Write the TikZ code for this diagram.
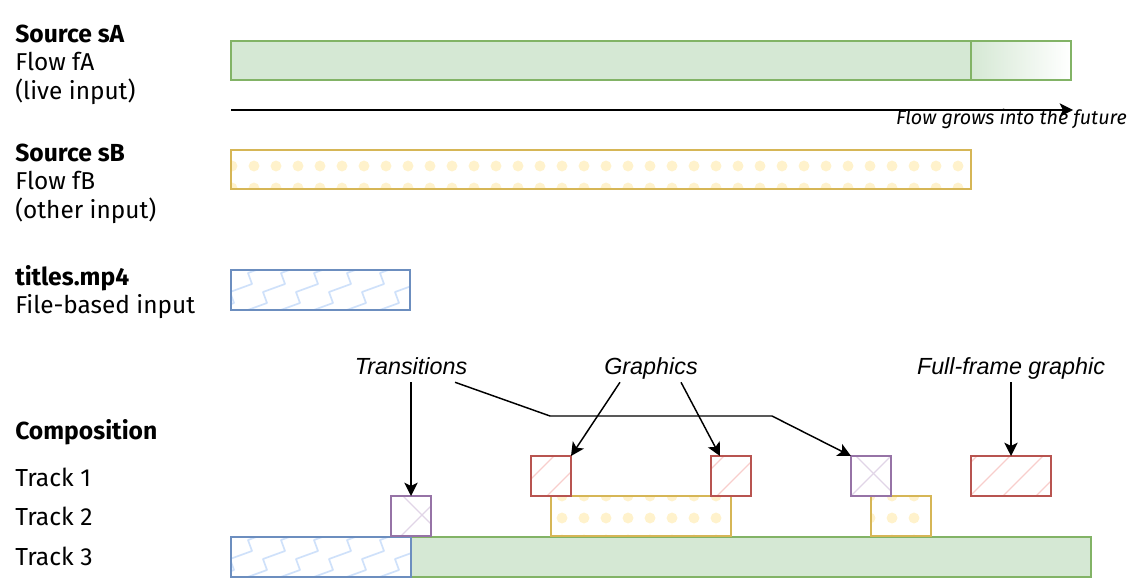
\documentclass[tikz,border=0pt]{standalone}
\usepackage{fontspec}
\setmainfont{Fira Sans}
\newfontfamily\arialfont{Liberation Sans}
\usetikzlibrary{arrows.meta,fit,calc}
\definecolor{gfill}{HTML}{D5E8D4}
\definecolor{gline}{HTML}{82B366}
\definecolor{yfill}{HTML}{FFF2CC}
\definecolor{yline}{HTML}{D6B656}
\definecolor{bfill}{HTML}{CFE1FA}
\definecolor{bline}{HTML}{6C8EBF}
\definecolor{rfill}{HTML}{F8CECC}
\definecolor{rline}{HTML}{B85450}
\definecolor{pfill}{HTML}{E1D5E7}
\definecolor{pline}{HTML}{9673A6}
\tikzset{
  box/.style={draw, line width=1.1pt, inner sep=0pt, outer sep=0pt},
  gbox/.style={box, draw=gline, fill=gfill},
  ybox/.style={box, draw=yline},
  bbox/.style={box, draw=bline},
  rbox/.style={box, draw=rline},
  pbox/.style={box, draw=pline},
  lab/.style={anchor=base west, inner sep=0pt, font=\fontsize{18.3}{21}\selectfont},
  labb/.style={anchor=base west, inner sep=0pt, font=\bfseries\fontsize{18.5}{21}\selectfont},
  tlab/.style={anchor=base west, inner sep=0pt, font=\fontsize{18.5}{22}\selectfont},
  tlabb/.style={anchor=base west, inner sep=0pt, font=\bfseries\fontsize{18.5}{22}\selectfont},
  note/.style={inner sep=0pt, text height=12.6pt, text depth=0pt, minimum height=24pt, font=\arialfont\itshape\fontsize{17.5}{20}\selectfont},
  arr/.style={line width=1.1pt, -{Stealth[length=10pt,width=10pt,inset=2.5pt]}},
  dotf/.style={fill=yfill},
  zz/.style={draw=bfill, line width=1.3pt, line join=bevel},
  hatch/.style={draw=rfill, line width=1pt},
  xhatch/.style={draw=pfill, line width=1pt}
}
\newcommand\myclip[1]{\clip ([xshift=0.6pt,yshift=0.6pt]#1.south west) rectangle ([xshift=-0.6pt,yshift=-0.6pt]#1.north east);}
\newcommand\mydots[2]{\begin{scope}\myclip{#1}
  \foreach \yy in {#2}{\foreach \xx in {232,254,...,980}{\fill[dotf] (\xx,\yy) circle[radius=4.1pt];}}\end{scope}}
\newcommand\myzig[2]{\begin{scope}\myclip{#1}
  \foreach \xx in {95,128,...,425}{\draw[zz] (\xx,#2) \foreach \k in {1,...,5}{ -- ++(22,-8) -- ++(-4,-11)};}\end{scope}}
\newcommand\myhatch[2]{\begin{scope}\myclip{#1}
  \foreach \cc in {#2}{\draw[hatch] (\cc,0) -- ++(-700,700);}\end{scope}}
\newcommand\mycross[3]{\begin{scope}\myclip{#1}
  \draw[xhatch] (#2,0) -- ++(700,700);
  \draw[xhatch] (#3,0) -- ++(-700,700);\end{scope}}
\begin{document}
\begin{tikzpicture}[x=0.75pt,y=-0.75pt]
\useasboundingbox (0,0) rectangle (1142,588);
% left labels
\node[labb] (sa1) at (15,42.5) {Source sA};
\node[lab]  (sa2) at (15,71) {Flow fA};
\node[lab]  (sa3) at (15,99.5) {(live input)};
\node[labb] (sb1) at (15,161.5) {Source sB};
\node[lab]  (sb2) at (15,190) {Flow fB};
\node[lab]  (sb3) at (15,218.5) {(other input)};
\node[labb] (tt1) at (15,285) {titles.mp4};
\node[lab]  (tt2) at (15,313.5) {File-based input};
\node[tlabb] (comp) at (15,439) {Composition};
\node[tlab] (tr1) at (15,486) {Track 1};
\node[tlab] (tr2) at (15,525.5) {Track 2};
\node[tlab] (tr3) at (15,565.5) {Track 3};
% source bars
\node[gbox, fit={(231,41) (971,80)}] (fA) {};
\node[box, draw=gline, left color=gfill, right color=white, fit={(971,41) (1071,80)}] (fAf) {};
\node[ybox, fit={(231,150) (971,189)}] (fB) {};
\mydots{fB}{144,166,188}
\node[bbox, fit={(231,270) (410,310)}] (ti) {};
\myzig{ti}{330}
% flow arrow
\coordinate (ts) at (231,110);
\coordinate (te) at (1073,110);
\draw[arr] (ts) -- (te);
\node[anchor=base east, inner sep=0pt, font=\itshape\fontsize{14.8}{17}\selectfont] (fg) at (1127,125) {Flow grows into the future};
% composition track 3
\node[bbox, fit={(231,537) (411,577)}] (c3b) {};
\myzig{c3b}{597}
\node[gbox, fit={(411,537) (1091,577)}] (c3g) {};
% track 2
\node[pbox, fit={(391,496) (431,536)}] (p2) {};
\node[ybox, fit={(551,496) (731,536)}] (y2a) {};
\node[ybox, fit={(871,496) (931,536)}] (y2b) {};
\mydots{y2a}{496,518,540}
\mydots{y2b}{496,518,540}
\mycross{p2}{-93}{937}
% track 1
\node[rbox, fit={(531,456) (571,496)}] (g1) {};
\node[rbox, fit={(711,456) (751,496)}] (g2) {};
\node[pbox, fit={(851,456) (891,496)}] (p1) {};
\node[rbox, fit={(971,456) (1051,496)}] (ff) {};
\myhatch{g1}{1010,1043}
\myhatch{g2}{1180,1213,1246}
\myhatch{ff}{1433,1466,1499,1532}
\mycross{p1}{400}{1347}
% redraw borders over patterns
\foreach \n in {fB,y2a,y2b}{\draw[yline, line width=1.1pt] (\n.south west) rectangle (\n.north east);}
\foreach \n in {ti,c3b}{\draw[bline, line width=1.1pt] (\n.south west) rectangle (\n.north east);}
\foreach \n in {g1,g2,ff}{\draw[rline, line width=1.1pt] (\n.south west) rectangle (\n.north east);}
\foreach \n in {p1,p2}{\draw[pline, line width=1.1pt] (\n.south west) rectangle (\n.north east);}
% notes
\node[note] (trans) at (411,366) {Transitions};
\node[note] (gr) at (651,366) {Graphics};
\node[note] (ffl) at (1011,366) {Full-frame graphic};
\coordinate (b1) at (550,416);
\coordinate (b2) at (772,416);
\draw[arr] (trans.south) -- (p2.north);
\draw[arr] ([xshift=33pt]trans.south) -- (b1) -- (b2) -- (p1.north west);
\draw[arr] ([xshift=-23.25pt]gr.south) -- (g1.north east);
\draw[arr] ([xshift=22.5pt]gr.south) -- ([xshift=6.75pt]g2.north west);
\draw[arr] (ffl.south) -- (ff.north);
\end{tikzpicture}
\end{document}
